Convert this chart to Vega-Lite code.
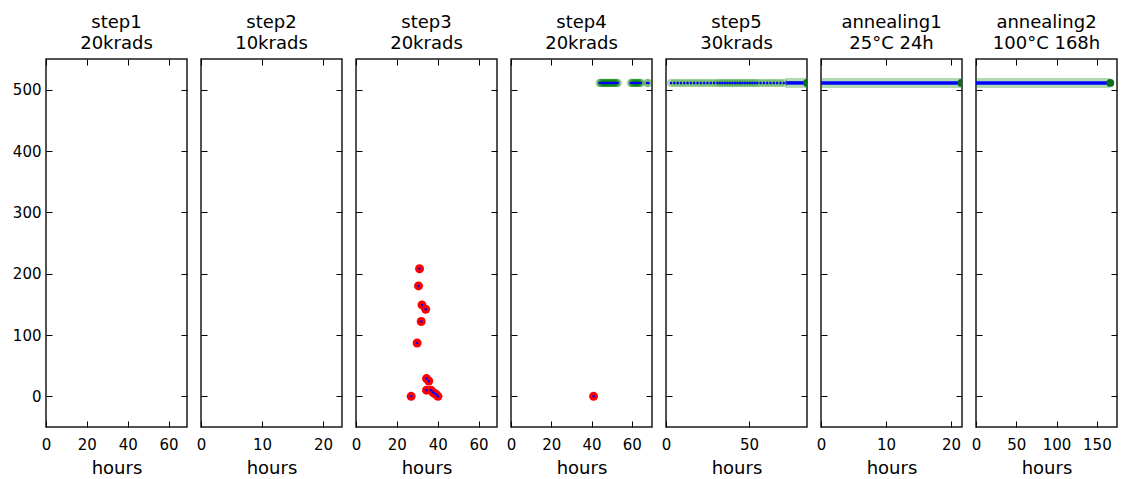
{
  "$schema": "https://vega.github.io/schema/vega-lite/v6.json",
  "padding": {"left": 11, "top": 12, "right": 0, "bottom": 0},
  "background": "white",
  "bounds": "flush",
  "datasets": {
    "obs": [
      {"panel": "step3", "hours": 31.1, "value": 208, "kind": "fail"},
      {"panel": "step3", "hours": 30.6, "value": 180, "kind": "fail"},
      {"panel": "step3", "hours": 32.3, "value": 149, "kind": "fail"},
      {"panel": "step3", "hours": 34.1, "value": 142, "kind": "fail"},
      {"panel": "step3", "hours": 31.9, "value": 122, "kind": "fail"},
      {"panel": "step3", "hours": 29.9, "value": 87, "kind": "fail"},
      {"panel": "step3", "hours": 34.5, "value": 29, "kind": "fail"},
      {"panel": "step3", "hours": 35.6, "value": 25, "kind": "fail"},
      {"panel": "step3", "hours": 34.5, "value": 10, "kind": "fail"},
      {"panel": "step3", "hours": 36.7, "value": 10, "kind": "fail"},
      {"panel": "step3", "hours": 37.5, "value": 7, "kind": "fail"},
      {"panel": "step3", "hours": 38.3, "value": 5, "kind": "fail"},
      {"panel": "step3", "hours": 39.2, "value": 3, "kind": "fail"},
      {"panel": "step3", "hours": 27.0, "value": 0, "kind": "fail"},
      {"panel": "step3", "hours": 40.1, "value": 0, "kind": "fail"},
      {"panel": "step4", "hours": 41, "value": 0, "kind": "fail"},
      {"panel": "step4", "hours": 44, "value": 511, "kind": "ok"},
      {"panel": "step4", "hours": 44.5, "value": 511, "kind": "ok"},
      {"panel": "step4", "hours": 45, "value": 511, "kind": "ok"},
      {"panel": "step4", "hours": 45.5, "value": 511, "kind": "ok"},
      {"panel": "step4", "hours": 46, "value": 511, "kind": "ok"},
      {"panel": "step4", "hours": 46.5, "value": 511, "kind": "ok"},
      {"panel": "step4", "hours": 47, "value": 511, "kind": "ok"},
      {"panel": "step4", "hours": 47.5, "value": 511, "kind": "ok"},
      {"panel": "step4", "hours": 48, "value": 511, "kind": "ok"},
      {"panel": "step4", "hours": 48.5, "value": 511, "kind": "ok"},
      {"panel": "step4", "hours": 49, "value": 511, "kind": "ok"},
      {"panel": "step4", "hours": 49.5, "value": 511, "kind": "ok"},
      {"panel": "step4", "hours": 50, "value": 511, "kind": "ok"},
      {"panel": "step4", "hours": 50.5, "value": 511, "kind": "ok"},
      {"panel": "step4", "hours": 51, "value": 511, "kind": "ok"},
      {"panel": "step4", "hours": 51.5, "value": 511, "kind": "ok"},
      {"panel": "step4", "hours": 52, "value": 511, "kind": "ok"},
      {"panel": "step4", "hours": 52.5, "value": 511, "kind": "ok"},
      {"panel": "step4", "hours": 53, "value": 511, "kind": "ok"},
      {"panel": "step4", "hours": 59.5, "value": 511, "kind": "ok"},
      {"panel": "step4", "hours": 60, "value": 511, "kind": "ok"},
      {"panel": "step4", "hours": 60.5, "value": 511, "kind": "ok"},
      {"panel": "step4", "hours": 61, "value": 511, "kind": "ok"},
      {"panel": "step4", "hours": 61.5, "value": 511, "kind": "ok"},
      {"panel": "step4", "hours": 62, "value": 511, "kind": "ok"},
      {"panel": "step4", "hours": 62.5, "value": 511, "kind": "ok"},
      {"panel": "step4", "hours": 63, "value": 511, "kind": "ok"},
      {"panel": "step4", "hours": 63.5, "value": 511, "kind": "ok"},
      {"panel": "step4", "hours": 64, "value": 511, "kind": "ok"},
      {"panel": "step4", "hours": 64.5, "value": 511, "kind": "ok"},
      {"panel": "step4", "hours": 67.5, "value": 511, "kind": "ok"},
      {"panel": "step4", "hours": 68.2, "value": 511, "kind": "ok"},
      {"panel": "step5", "hours": 3, "value": 511, "kind": "ok"},
      {"panel": "step5", "hours": 5, "value": 511, "kind": "ok"},
      {"panel": "step5", "hours": 7, "value": 511, "kind": "ok"},
      {"panel": "step5", "hours": 9, "value": 511, "kind": "ok"},
      {"panel": "step5", "hours": 11, "value": 511, "kind": "ok"},
      {"panel": "step5", "hours": 13, "value": 511, "kind": "ok"},
      {"panel": "step5", "hours": 15, "value": 511, "kind": "ok"},
      {"panel": "step5", "hours": 17, "value": 511, "kind": "ok"},
      {"panel": "step5", "hours": 19, "value": 511, "kind": "ok"},
      {"panel": "step5", "hours": 21, "value": 511, "kind": "ok"},
      {"panel": "step5", "hours": 23, "value": 511, "kind": "ok"},
      {"panel": "step5", "hours": 25, "value": 511, "kind": "ok"},
      {"panel": "step5", "hours": 27, "value": 511, "kind": "ok"},
      {"panel": "step5", "hours": 29, "value": 511, "kind": "ok"},
      {"panel": "step5", "hours": 31, "value": 511, "kind": "ok"},
      {"panel": "step5", "hours": 32.5, "value": 511, "kind": "ok"},
      {"panel": "step5", "hours": 34, "value": 511, "kind": "ok"},
      {"panel": "step5", "hours": 35.5, "value": 511, "kind": "ok"},
      {"panel": "step5", "hours": 37, "value": 511, "kind": "ok"},
      {"panel": "step5", "hours": 38.5, "value": 511, "kind": "ok"},
      {"panel": "step5", "hours": 40, "value": 511, "kind": "ok"},
      {"panel": "step5", "hours": 41.5, "value": 511, "kind": "ok"},
      {"panel": "step5", "hours": 43, "value": 511, "kind": "ok"},
      {"panel": "step5", "hours": 44.5, "value": 511, "kind": "ok"},
      {"panel": "step5", "hours": 46, "value": 511, "kind": "ok"},
      {"panel": "step5", "hours": 47.5, "value": 511, "kind": "ok"},
      {"panel": "step5", "hours": 49, "value": 511, "kind": "ok"},
      {"panel": "step5", "hours": 50.5, "value": 511, "kind": "ok"},
      {"panel": "step5", "hours": 52, "value": 511, "kind": "ok"},
      {"panel": "step5", "hours": 53.5, "value": 511, "kind": "ok"},
      {"panel": "step5", "hours": 55, "value": 511, "kind": "ok"},
      {"panel": "step5", "hours": 57, "value": 511, "kind": "ok"},
      {"panel": "step5", "hours": 59, "value": 511, "kind": "ok"},
      {"panel": "step5", "hours": 61, "value": 511, "kind": "ok"},
      {"panel": "step5", "hours": 63, "value": 511, "kind": "ok"},
      {"panel": "step5", "hours": 65, "value": 511, "kind": "ok"},
      {"panel": "step5", "hours": 67, "value": 511, "kind": "ok"},
      {"panel": "step5", "hours": 69, "value": 511, "kind": "ok"},
      {"panel": "step5", "hours": 71, "value": 511, "kind": "ok"},
      {"panel": "step5", "hours": 72, "value": 511, "kind": "cont"},
      {"panel": "step5", "hours": 86, "value": 511, "kind": "cont"},
      {"panel": "step5", "hours": 85, "value": 511, "kind": "end"},
      {"panel": "annealing1", "hours": 0, "value": 511, "kind": "cont"},
      {"panel": "annealing1", "hours": 22, "value": 511, "kind": "cont"},
      {"panel": "annealing1", "hours": 21.6, "value": 511, "kind": "end"},
      {"panel": "annealing2", "hours": 0, "value": 511, "kind": "cont"},
      {"panel": "annealing2", "hours": 166.7, "value": 511, "kind": "cont"},
      {"panel": "annealing2", "hours": 166.7, "value": 511, "kind": "end"}
    ]
  },
  "data": {"name": "obs"},
  "resolve": {"scale": {"x": "independent", "y": "independent"}},
  "hconcat": [
    {
      "width": 141, "height": 368,
      "title": {"text": ["step1", "20krads"]},
      "transform": [{"filter": "datum.panel == 'step1'"}],
      "resolve": {"axis": {"x": "independent", "y": "independent"}},
      "layer": [
        {"transform": [{"filter": "datum.kind == 'cont'"}], "mark": {"type": "line", "color": "#008000", "opacity": 0.3, "strokeWidth": 10, "clip": true},
         "encoding": {"x": {"field": "hours", "type": "quantitative", "scale": {"domain": [0, 69], "nice": false}, "axis": {"orient": "bottom", "values": [0, 20, 40, 60], "title": "hours"}},
                      "y": {"field": "value", "type": "quantitative", "scale": {"domain": [-50, 550], "nice": false}, "axis": {"orient": "left", "values": [0, 100, 200, 300, 400, 500], "title": null}}}},
        {"transform": [{"filter": "datum.kind == 'cont'"}], "mark": {"type": "line", "color": "#0000ff", "strokeWidth": 3.5, "clip": true},
         "encoding": {"x": {"field": "hours", "type": "quantitative", "scale": {"domain": [0, 69], "nice": false}, "axis": {"orient": "top", "values": [0, 20, 40, 60], "labels": false, "title": null}},
                      "y": {"field": "value", "type": "quantitative", "scale": {"domain": [-50, 550], "nice": false}, "axis": {"orient": "right", "values": [0, 100, 200, 300, 400, 500], "labels": false, "title": null}}}}
      ]
    },
    {
      "width": 141, "height": 368,
      "title": {"text": ["step2", "10krads"]},
      "transform": [{"filter": "datum.panel == 'step2'"}],
      "resolve": {"axis": {"x": "independent", "y": "independent"}},
      "layer": [
        {"transform": [{"filter": "datum.kind == 'cont'"}], "mark": {"type": "line", "color": "#008000", "opacity": 0.3, "strokeWidth": 10, "clip": true},
         "encoding": {"x": {"field": "hours", "type": "quantitative", "scale": {"domain": [0, 23.1], "nice": false}, "axis": {"orient": "bottom", "values": [0, 10, 20], "title": "hours"}},
                      "y": {"field": "value", "type": "quantitative", "scale": {"domain": [-50, 550], "nice": false}, "axis": {"orient": "left", "values": [0, 100, 200, 300, 400, 500], "labels": false, "title": null}}}},
        {"transform": [{"filter": "datum.kind == 'cont'"}], "mark": {"type": "line", "color": "#0000ff", "strokeWidth": 3.5, "clip": true},
         "encoding": {"x": {"field": "hours", "type": "quantitative", "scale": {"domain": [0, 23.1], "nice": false}, "axis": {"orient": "top", "values": [0, 10, 20], "labels": false, "title": null}},
                      "y": {"field": "value", "type": "quantitative", "scale": {"domain": [-50, 550], "nice": false}, "axis": {"orient": "right", "values": [0, 100, 200, 300, 400, 500], "labels": false, "title": null}}}}
      ]
    },
    {
      "width": 141, "height": 368,
      "title": {"text": ["step3", "20krads"]},
      "transform": [{"filter": "datum.panel == 'step3'"}],
      "resolve": {"axis": {"x": "independent", "y": "independent"}},
      "layer": [
        {"transform": [{"filter": "datum.kind == 'fail'"}], "mark": {"type": "point", "filled": true, "color": "#ff0000", "opacity": 1, "size": 80, "clip": true},
         "encoding": {"x": {"field": "hours", "type": "quantitative", "scale": {"domain": [0, 69], "nice": false}, "axis": {"orient": "bottom", "values": [0, 20, 40, 60], "title": "hours"}},
                      "y": {"field": "value", "type": "quantitative", "scale": {"domain": [-50, 550], "nice": false}, "axis": {"orient": "left", "values": [0, 100, 200, 300, 400, 500], "labels": false, "title": null}}}},
        {"mark": {"type": "point", "filled": true, "color": "#0000ff", "opacity": 1, "size": 6, "clip": true},
         "encoding": {"x": {"field": "hours", "type": "quantitative", "scale": {"domain": [0, 69], "nice": false}, "axis": {"orient": "top", "values": [0, 20, 40, 60], "labels": false, "title": null}},
                      "y": {"field": "value", "type": "quantitative", "scale": {"domain": [-50, 550], "nice": false}, "axis": {"orient": "right", "values": [0, 100, 200, 300, 400, 500], "labels": false, "title": null}}}}
      ]
    },
    {
      "width": 141, "height": 368,
      "title": {"text": ["step4", "20krads"]},
      "transform": [{"filter": "datum.panel == 'step4'"}],
      "resolve": {"axis": {"x": "independent", "y": "independent"}},
      "layer": [
        {"transform": [{"filter": "datum.kind == 'ok'"}], "mark": {"type": "point", "filled": true, "color": "#008000", "opacity": 0.3, "size": 70, "clip": true},
         "encoding": {"x": {"field": "hours", "type": "quantitative", "scale": {"domain": [0, 70], "nice": false}, "axis": {"orient": "bottom", "values": [0, 20, 40, 60], "title": "hours"}},
                      "y": {"field": "value", "type": "quantitative", "scale": {"domain": [-50, 550], "nice": false}, "axis": {"orient": "left", "values": [0, 100, 200, 300, 400, 500], "labels": false, "title": null}}}},
        {"transform": [{"filter": "datum.kind == 'fail'"}], "mark": {"type": "point", "filled": true, "color": "#ff0000", "opacity": 1, "size": 80, "clip": true},
         "encoding": {"x": {"field": "hours", "type": "quantitative", "scale": {"domain": [0, 70], "nice": false}, "axis": {"orient": "top", "values": [0, 20, 40, 60], "labels": false, "title": null}},
                      "y": {"field": "value", "type": "quantitative", "scale": {"domain": [-50, 550], "nice": false}, "axis": {"orient": "right", "values": [0, 100, 200, 300, 400, 500], "labels": false, "title": null}}}},
        {"mark": {"type": "point", "filled": true, "color": "#0000ff", "opacity": 1, "size": 6, "clip": true},
         "encoding": {"x": {"field": "hours", "type": "quantitative", "scale": {"domain": [0, 70], "nice": false}, "axis": null},
                      "y": {"field": "value", "type": "quantitative", "scale": {"domain": [-50, 550], "nice": false}, "axis": null}}}
      ]
    },
    {
      "width": 141, "height": 368,
      "title": {"text": ["step5", "30krads"]},
      "transform": [{"filter": "datum.panel == 'step5'"}],
      "resolve": {"axis": {"x": "independent", "y": "independent"}},
      "layer": [
        {"transform": [{"filter": "datum.kind == 'cont'"}], "mark": {"type": "line", "color": "#008000", "opacity": 0.3, "strokeWidth": 10, "clip": true},
         "encoding": {"x": {"field": "hours", "type": "quantitative", "scale": {"domain": [0, 85], "nice": false}, "axis": {"orient": "bottom", "values": [0, 50], "title": "hours"}},
                      "y": {"field": "value", "type": "quantitative", "scale": {"domain": [-50, 550], "nice": false}, "axis": {"orient": "left", "values": [0, 100, 200, 300, 400, 500], "labels": false, "title": null}}}},
        {"transform": [{"filter": "datum.kind == 'cont'"}], "mark": {"type": "line", "color": "#0000ff", "strokeWidth": 3.5, "clip": true},
         "encoding": {"x": {"field": "hours", "type": "quantitative", "scale": {"domain": [0, 85], "nice": false}, "axis": {"orient": "top", "values": [0, 50], "labels": false, "title": null}},
                      "y": {"field": "value", "type": "quantitative", "scale": {"domain": [-50, 550], "nice": false}, "axis": {"orient": "right", "values": [0, 100, 200, 300, 400, 500], "labels": false, "title": null}}}},
        {"transform": [{"filter": "datum.kind == 'ok'"}], "mark": {"type": "point", "filled": true, "color": "#008000", "opacity": 0.3, "size": 70, "clip": true},
         "encoding": {"x": {"field": "hours", "type": "quantitative", "scale": {"domain": [0, 85], "nice": false}, "axis": null},
                      "y": {"field": "value", "type": "quantitative", "scale": {"domain": [-50, 550], "nice": false}, "axis": null}}},
        {"transform": [{"filter": "datum.kind == 'ok'"}], "mark": {"type": "point", "filled": true, "color": "#0000ff", "opacity": 1, "size": 6, "clip": true},
         "encoding": {"x": {"field": "hours", "type": "quantitative", "scale": {"domain": [0, 85], "nice": false}, "axis": null},
                      "y": {"field": "value", "type": "quantitative", "scale": {"domain": [-50, 550], "nice": false}, "axis": null}}},
        {"transform": [{"filter": "datum.kind == 'end'"}], "mark": {"type": "point", "filled": true, "color": "#0a6e1e", "opacity": 1, "size": 60, "clip": true},
         "encoding": {"x": {"field": "hours", "type": "quantitative", "scale": {"domain": [0, 85], "nice": false}, "axis": null},
                      "y": {"field": "value", "type": "quantitative", "scale": {"domain": [-50, 550], "nice": false}, "axis": null}}}
      ]
    },
    {
      "width": 141, "height": 368,
      "title": {"text": ["annealing1", "25°C 24h"]},
      "transform": [{"filter": "datum.panel == 'annealing1'"}],
      "resolve": {"axis": {"x": "independent", "y": "independent"}},
      "layer": [
        {"transform": [{"filter": "datum.kind == 'cont'"}], "mark": {"type": "line", "color": "#008000", "opacity": 0.3, "strokeWidth": 10, "clip": true},
         "encoding": {"x": {"field": "hours", "type": "quantitative", "scale": {"domain": [0, 21.7], "nice": false}, "axis": {"orient": "bottom", "values": [0, 10, 20], "title": "hours"}},
                      "y": {"field": "value", "type": "quantitative", "scale": {"domain": [-50, 550], "nice": false}, "axis": {"orient": "left", "values": [0, 100, 200, 300, 400, 500], "labels": false, "title": null}}}},
        {"transform": [{"filter": "datum.kind == 'cont'"}], "mark": {"type": "line", "color": "#0000ff", "strokeWidth": 3.5, "clip": true},
         "encoding": {"x": {"field": "hours", "type": "quantitative", "scale": {"domain": [0, 21.7], "nice": false}, "axis": {"orient": "top", "values": [0, 10, 20], "labels": false, "title": null}},
                      "y": {"field": "value", "type": "quantitative", "scale": {"domain": [-50, 550], "nice": false}, "axis": {"orient": "right", "values": [0, 100, 200, 300, 400, 500], "labels": false, "title": null}}}},
        {"transform": [{"filter": "datum.kind == 'end'"}], "mark": {"type": "point", "filled": true, "color": "#0a6e1e", "opacity": 1, "size": 60, "clip": true},
         "encoding": {"x": {"field": "hours", "type": "quantitative", "scale": {"domain": [0, 21.7], "nice": false}, "axis": null},
                      "y": {"field": "value", "type": "quantitative", "scale": {"domain": [-50, 550], "nice": false}, "axis": null}}}
      ]
    },
    {
      "width": 141, "height": 368,
      "title": {"text": ["annealing2", "100°C 168h"]},
      "transform": [{"filter": "datum.panel == 'annealing2'"}],
      "resolve": {"axis": {"x": "independent", "y": "independent"}},
      "layer": [
        {"transform": [{"filter": "datum.kind == 'cont'"}], "mark": {"type": "line", "color": "#008000", "opacity": 0.3, "strokeWidth": 10, "clip": true},
         "encoding": {"x": {"field": "hours", "type": "quantitative", "scale": {"domain": [0, 175], "nice": false}, "axis": {"orient": "bottom", "values": [0, 50, 100, 150], "title": "hours"}},
                      "y": {"field": "value", "type": "quantitative", "scale": {"domain": [-50, 550], "nice": false}, "axis": {"orient": "left", "values": [0, 100, 200, 300, 400, 500], "labels": false, "title": null}}}},
        {"transform": [{"filter": "datum.kind == 'cont'"}], "mark": {"type": "line", "color": "#0000ff", "strokeWidth": 3.5, "clip": true},
         "encoding": {"x": {"field": "hours", "type": "quantitative", "scale": {"domain": [0, 175], "nice": false}, "axis": {"orient": "top", "values": [0, 50, 100, 150], "labels": false, "title": null}},
                      "y": {"field": "value", "type": "quantitative", "scale": {"domain": [-50, 550], "nice": false}, "axis": {"orient": "right", "values": [0, 100, 200, 300, 400, 500], "labels": false, "title": null}}}},
        {"transform": [{"filter": "datum.kind == 'end'"}], "mark": {"type": "point", "filled": true, "color": "#0a6e1e", "opacity": 1, "size": 60, "clip": true},
         "encoding": {"x": {"field": "hours", "type": "quantitative", "scale": {"domain": [0, 175], "nice": false}, "axis": null},
                      "y": {"field": "value", "type": "quantitative", "scale": {"domain": [-50, 550], "nice": false}, "axis": null}}}
      ]
    }
  ],
  "spacing": 14,
  "config": {
    "font": "DejaVu Sans",
    "view": {"stroke": "#1a1a1a", "strokeWidth": 1.5},
    "axis": {"domain": false, "grid": false, "ticks": true, "tickSize": -6, "tickColor": "#000", "tickWidth": 1,
             "labelFont": "DejaVu Sans", "labelFontSize": 15, "labelColor": "#000", "labelFlush": false, "labelOverlap": false,
             "titleFont": "DejaVu Sans", "titleFontSize": 18, "titleFontWeight": "normal", "titleColor": "#000"},
    "axisX": {"labelPadding": 16, "titlePadding": 7},
    "axisY": {"labelPadding": 11},
    "title": {"font": "DejaVu Sans", "fontSize": 18, "fontWeight": "normal", "color": "#000", "offset": 6, "lineHeight": 21}
  }
}
